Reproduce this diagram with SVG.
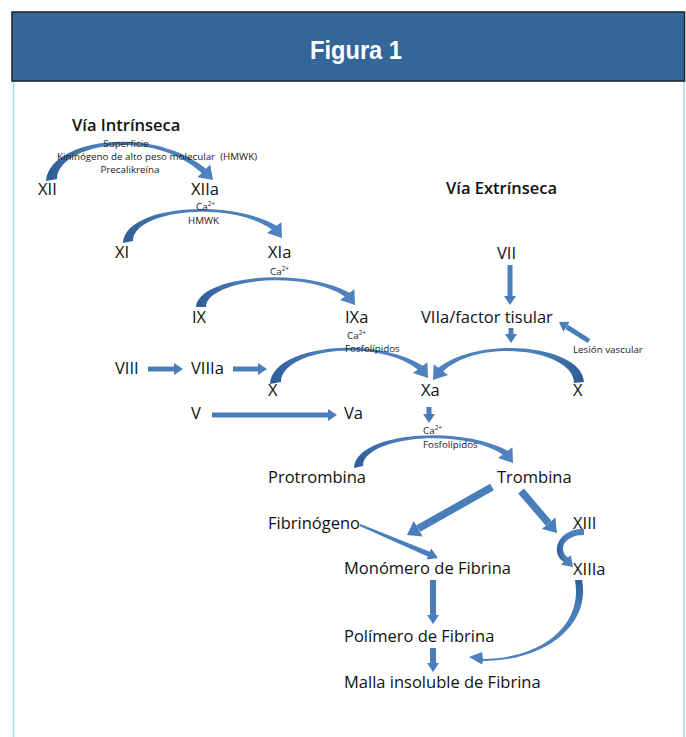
<svg xmlns="http://www.w3.org/2000/svg" width="686" height="737" viewBox="0 0 686 737">
<style>
.lbl{font-family:"Open Sans","Liberation Sans",sans-serif;font-size:16.5px;fill:#111}
.sm{font-family:"Open Sans","Liberation Sans",sans-serif;font-size:9.8px;fill:#222}
.sup{font-size:6.5px}
.hd{font-family:"Open Sans","Liberation Sans",sans-serif;font-size:16.5px;font-weight:600;fill:#111}
.ln{stroke:#4a7ebb;stroke-width:5;fill:none}
.lnb{stroke:#4a7ebb;stroke-width:8;fill:none}
.fa{fill:#4a7ebb}
</style>
<defs>
<marker id="ah" markerUnits="userSpaceOnUse" markerWidth="9" markerHeight="12" refX="0" refY="6" orient="auto"><path d="M0,0 L9,6 L0,12 Z" fill="#4a7ebb"/></marker>
<marker id="ahb" markerUnits="userSpaceOnUse" markerWidth="13" markerHeight="18" refX="0" refY="9" orient="auto"><path d="M0,0 L13,9 L0,18 Z" fill="#4a7ebb"/></marker>
<linearGradient id="gL" x1="0" y1="0" x2="1" y2="0"><stop offset="0" stop-color="#2e5d94"/><stop offset="0.3" stop-color="#4a7ebb"/><stop offset="1" stop-color="#4f82bf"/></linearGradient>
<linearGradient id="gR" x1="1" y1="0" x2="0" y2="0"><stop offset="0" stop-color="#2e5d94"/><stop offset="0.3" stop-color="#4a7ebb"/><stop offset="1" stop-color="#4f82bf"/></linearGradient>
<linearGradient id="gT" x1="0" y1="0" x2="0" y2="1"><stop offset="0" stop-color="#2e5d94"/><stop offset="0.35" stop-color="#4a7ebb"/><stop offset="1" stop-color="#4f82bf"/></linearGradient>
</defs>
<rect width="686" height="737" fill="#fff"/>
<g id="frame">
<line x1="13.5" y1="81" x2="13.5" y2="737" stroke="#a6dbe8" stroke-width="1.6"/>
<line x1="684" y1="81" x2="684" y2="737" stroke="#a6dbe8" stroke-width="1.6"/>
<rect x="12" y="12" width="672.5" height="69" fill="#336699" stroke="#1f2a33" stroke-width="1.6"/>
<text x="356" y="59" text-anchor="middle" font-family="Liberation Sans, Arial, sans-serif" font-weight="bold" font-size="25" fill="#fff" textLength="92" lengthAdjust="spacingAndGlyphs">Figura 1</text>
</g>
<g id="connectors">
<path fill="url(#gL)" d="M46,181 C49,140 150,124 205.9,168.7 L210.2,164.4 L213,180 L197.4,177.2 L201.7,172.9 C150,126 57,145 57,179 Z"/>
<path fill="url(#gL)" d="M123,243 C125,205 230,198 276.6,225.8 L281.4,222.2 L282,238 L267,233 L271.8,229.4 C230,200 133,210 133,241 Z"/>
<path fill="url(#gL)" d="M196,307 C198,276 300,266 349.6,292.8 L354.4,289.2 L355,305 L340,300 L344.8,296.4 C300,268 206,281 206,307 Z"/>
<path fill="url(#gL)" d="M270,384 C272,345 375,335 422.6,365.8 L427.4,362.2 L428,378 L413,373 L417.8,369.4 C375,337 281,350 281,382 Z"/>
<path fill="url(#gR)" d="M584,382 C582,345 480,335 438.4,367.8 L433.6,364.2 L433,380 L448,375 L443.2,371.4 C480,337 574,350 574,383 Z"/>
<path fill="url(#gL)" d="M354,468 C356,432 460,425 507.6,450.8 L512.4,447.2 L513,463 L498,458 L502.8,454.4 C460,427 363,437 363,466 Z"/>
<path fill="url(#gL)" d="M584,529 C561,527 548,551 563.8,562 L561,564.8 L573,567 L570.8,555 L568,557.8 C557,549 565,535 584,535 Z"/>
<path fill="url(#gT)" d="M582,580 C591,625 545,661 483,661 L482,664.5 L469,657 L482,652 L483,659 C543,658 583,625 575,580 Z"/>
<line class="ln" x1="148" y1="369" x2="174" y2="369" marker-end="url(#ah)"/>
<line class="ln" x1="233" y1="369" x2="258" y2="369" marker-end="url(#ah)"/>
<line class="ln" x1="212" y1="415" x2="328" y2="415" marker-end="url(#ah)"/>
<line class="ln" x1="510" y1="265" x2="510" y2="296" marker-end="url(#ah)"/>
<line class="ln" x1="511" y1="328" x2="511" y2="334" marker-end="url(#ah)"/>
<line class="ln" x1="429" y1="407" x2="429" y2="414" marker-end="url(#ah)"/>
<line class="ln" x1="589" y1="341" x2="566.6" y2="326.8" marker-end="url(#ah)"/>
<line class="lnb" style="stroke-width:7.5" x1="492" y1="487" x2="418.3" y2="528.6" marker-end="url(#ahb)"/>
<line class="lnb" style="stroke-width:7.5" x1="521" y1="491" x2="548.5" y2="523.1" marker-end="url(#ahb)"/>
<polygon class="fa" points="360.4,524.1 429.8,551.8 431.1,548.6 438,558 426.5,559.6 427.8,556.4 359.6,525.9"/>
<line class="ln" style="stroke-width:6" x1="433" y1="580" x2="433" y2="615" marker-end="url(#ah)"/>
<line class="ln" style="stroke-width:6" x1="433" y1="648" x2="433" y2="663" marker-end="url(#ah)"/>
</g>
<g id="via-intrinseca"><text class="hd" x="72" y="131">Vía Intrínseca</text></g>
<g id="cofactors-xii">
<text class="sm" x="126" y="147" text-anchor="middle">Superficie</text>
<text class="sm" x="157" y="160" text-anchor="middle" xml:space="preserve">Kininógeno de alto peso molecular  (HMWK)</text>
<text class="sm" x="130" y="173" text-anchor="middle">Precalikreína</text>
</g>
<g id="n-XII"><text class="lbl" x="38" y="195">XII</text></g>
<g id="n-XIIa"><text class="lbl" x="191" y="195">XIIa</text></g>
<g id="cof-xiia"><text class="sm" x="196" y="210">Ca<tspan class="sup" dy="-4">2+</tspan></text><text class="sm" x="188" y="224">HMWK</text></g>
<g id="n-XI"><text class="lbl" x="115" y="258">XI</text></g>
<g id="n-XIa"><text class="lbl" x="268" y="258">XIa</text></g>
<g id="cof-xia"><text class="sm" x="270" y="275">Ca<tspan class="sup" dy="-4">2+</tspan></text></g>
<g id="n-IX"><text class="lbl" x="192" y="323">IX</text></g>
<g id="n-IXa"><text class="lbl" x="345" y="323">IXa</text></g>
<g id="cof-ixa"><text class="sm" x="347" y="339">Ca<tspan class="sup" dy="-4">2+</tspan></text><text class="sm" x="345" y="352">Fosfolípidos</text></g>
<g id="n-VIII"><text class="lbl" x="115" y="374">VIII</text></g>
<g id="n-VIIIa"><text class="lbl" x="191" y="374">VIIIa</text></g>
<g id="n-X"><text class="lbl" x="268" y="396">X</text></g>
<g id="n-Xa"><text class="lbl" x="421" y="396">Xa</text></g>
<g id="n-X2"><text class="lbl" x="573" y="396">X</text></g>
<g id="n-V"><text class="lbl" x="191" y="419">V</text></g>
<g id="n-Va"><text class="lbl" x="344" y="419">Va</text></g>
<g id="cof-xa"><text class="sm" x="423" y="434">Ca<tspan class="sup" dy="-4">2+</tspan></text><text class="sm" x="423" y="448">Fosfolípidos</text></g>
<g id="via-extrinseca"><text class="hd" x="446" y="194">Vía Extrínseca</text></g>
<g id="n-VII"><text class="lbl" x="497" y="259">VII</text></g>
<g id="n-VIIa"><text class="lbl" x="421" y="323">VIIa/factor tisular</text></g>
<g id="lesion"><text class="sm" x="573" y="353">Lesión vascular</text></g>
<g id="n-protrombina"><text class="lbl" x="268" y="483">Protrombina</text></g>
<g id="n-trombina"><text class="lbl" x="497" y="483">Trombina</text></g>
<g id="n-fibrinogeno"><text class="lbl" x="268" y="529">Fibrinógeno</text></g>
<g id="n-XIII"><text class="lbl" x="573" y="529">XIII</text></g>
<g id="n-monomero"><text class="lbl" x="344" y="574">Monómero de Fibrina</text></g>
<g id="n-XIIIa"><text class="lbl" x="573" y="575">XIIIa</text></g>
<g id="n-polimero"><text class="lbl" x="344" y="642">Polímero de Fibrina</text></g>
<g id="n-malla"><text class="lbl" x="344" y="688">Malla insoluble de Fibrina</text></g>
</svg>
